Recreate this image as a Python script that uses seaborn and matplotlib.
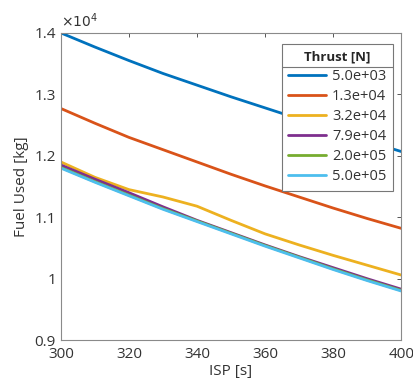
import numpy as np
import pandas as pd
import seaborn as sns
import matplotlib.pyplot as plt
from matplotlib.ticker import FuncFormatter, MultipleLocator
from matplotlib.lines import Line2D

# Values (fuel in kg)
isp = [300, 310, 320, 330, 340, 350, 360, 370, 380, 390, 400]
thrust_labels = ["5.0e+03", "1.3e+04", "3.2e+04", "7.9e+04", "2.0e+05", "5.0e+05"]
fuel_5e3 = [14000, 13770, 13550, 13340, 13150, 12960, 12780, 12600, 12410, 12240, 12070]
fuel_13e4 = [12770, 12530, 12300, 12100, 11900, 11700, 11510, 11330, 11150, 10980, 10820]
fuel_32e4 = [11900, 11650, 11450, 11330, 11180, 10950, 10730, 10550, 10380, 10220, 10060]
fuel_79e4 = [11850, 11620, 11400, 11170, 10950, 10750, 10550, 10360, 10180, 10000, 9830]
fuel_2e5 = [11810, 11580, 11360, 11140, 10940, 10740, 10540, 10350, 10160, 9980, 9810]
fuel_5e5 = [11800, 11570, 11350, 11130, 10930, 10730, 10530, 10340, 10150, 9970, 9800]

colors = ["#0072BD", "#D95319", "#EDB120", "#7E2F8E", "#77AC30", "#4DBEEE"]

series = [fuel_5e3, fuel_13e4, fuel_32e4, fuel_79e4, fuel_2e5, fuel_5e5]
rows = []
for lab, vals in zip(thrust_labels, series):
    for x, v in zip(isp, vals):
        rows.append({"ISP": x, "Fuel": v, "Thrust [N]": lab})
df = pd.DataFrame(rows)

sns.set_style("white")
plt.rcParams["font.family"] = ["Open Sans", "DejaVu Sans"]
txtcol = "#333333"

fig = plt.figure(figsize=(4.14, 3.87), dpi=100)
ax = fig.add_axes([0.147, 0.121, 0.822, 0.794])

sns.lineplot(data=df, x="ISP", y="Fuel", hue="Thrust [N]", hue_order=thrust_labels,
             palette=colors, linewidth=2, ax=ax, estimator=None)

ax.set_xlim(300, 400)
ax.set_ylim(9000, 14000)
ax.xaxis.set_major_locator(MultipleLocator(20))
ax.yaxis.set_major_locator(MultipleLocator(1000))
ax.yaxis.set_major_formatter(FuncFormatter(lambda v, p: f"{v/1e4:g}"))
ax.tick_params(direction="in", length=3, width=0.6, colors="#3a3a3a", labelsize=11,
               top=True, right=True, labelcolor=txtcol)
ax.tick_params(axis="x", pad=5)
for s in ax.spines.values():
    s.set_color("#8a8a8a")
    s.set_linewidth(0.8)
ax.set_xlabel("ISP [s]", fontsize=11, color=txtcol, labelpad=1)
ax.set_ylabel("Fuel Used [kg]", fontsize=11, color=txtcol, labelpad=4)
ax.text(0.0, 1.005, r"$\times10^{4}$", transform=ax.transAxes, fontsize=10,
        color=txtcol, va="bottom", ha="left")

leg = ax.legend(title="Thrust [N]", loc="upper right", bbox_to_anchor=(0.976, 0.964),
                borderaxespad=0, fontsize=10.5,
                title_fontproperties={"weight": "bold", "size": 9.5},
                frameon=True, fancybox=False, edgecolor="#777777", framealpha=1,
                facecolor="white", handlelength=2.6, labelspacing=0.35,
                borderpad=0.45, handletextpad=0.4)
leg.get_frame().set_linewidth(0.8)
for t in leg.get_texts():
    t.set_color(txtcol)

# separator under legend title
fig.canvas.draw()
r = fig.canvas.get_renderer()
lb = leg.get_window_extent(r)
tb = leg.get_title().get_window_extent(r)
ysep = tb.y0 - 3
fig.add_artist(Line2D([lb.x0, lb.x1], [ysep, ysep], transform=None,
                      color="#777777", linewidth=0.8))

fig.savefig("out.png", dpi=100)
